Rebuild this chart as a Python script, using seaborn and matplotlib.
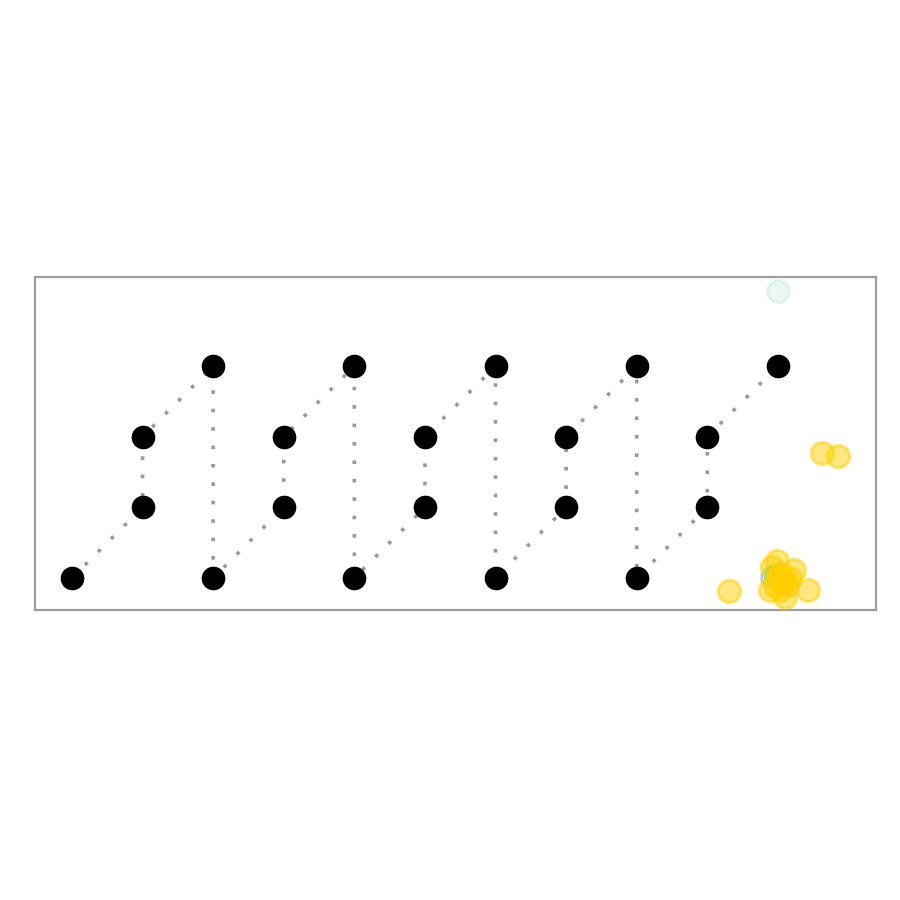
import matplotlib
matplotlib.use("Agg")
import matplotlib.pyplot as plt
import seaborn as sns
import pandas as pd

# Path of black nodes (zigzag)
path_x = [0, 1, 1, 2, 2, 3, 3, 4, 4, 5, 5, 6, 6, 7, 7, 8, 8, 9, 9, 10]
path_y = [0, 1, 2, 3, 0, 1, 2, 3, 0, 1, 2, 3, 0, 1, 2, 3, 0, 1, 2, 3]

# Yellow scatter points
yellow_x = [9.31, 9.99, 10.23, 10.42, 9.89, 10.10, 10.07, 9.92, 10.00, 10.13, 9.96, 10.17, 10.03, 10.05, 10.09, 10.62, 10.85]
yellow_y = [-0.18, 0.245, 0.11, -0.17, -0.17, -0.27, -0.03, 0.16, 0.00, -0.10, -0.11, 0.00, -0.17, 0.05, -0.06, 1.77, 1.73]

# Teal scatter points
teal_x = [9.97, 9.92]
teal_y = [0.04, 0.02]
teal_faint_x = [10.0]
teal_faint_y = [4.06]

sns.set_theme(style="white")
fig = plt.figure(figsize=(9, 9), dpi=100)
ax = fig.add_axes([35 / 900, 290 / 900, 841 / 900, 333 / 900])

path_df = pd.DataFrame({"x": path_x, "y": path_y})
sns.lineplot(data=path_df, x="x", y="y", sort=False, estimator=None, ax=ax,
             color="#999999", linewidth=2.6, linestyle=(0, (1, 4.1)), zorder=1)
sns.scatterplot(data=path_df, x="x", y="y", ax=ax, color="black", s=290,
                linewidth=0, zorder=2)

sns.scatterplot(x=teal_faint_x, y=teal_faint_y, ax=ax, color="#3cb896", alpha=0.1,
                s=260, edgecolor="#3cb896", linewidth=2.2, zorder=3)
sns.scatterplot(x=teal_x, y=teal_y, ax=ax, color="#1a9e8a", alpha=0.25,
                s=260, edgecolor="#1a9e8a", linewidth=2.2, zorder=3)
sns.scatterplot(x=yellow_x, y=yellow_y, ax=ax, color="#ffd000", alpha=0.5,
                s=260, edgecolor="#ffd000", linewidth=2.2, zorder=4)

ax.set_xlim(-0.524, 11.39)
ax.set_ylim(-0.453, 4.26)
ax.set_xticks([])
ax.set_yticks([])
ax.set_xlabel("")
ax.set_ylabel("")
for sp in ax.spines.values():
    sp.set_color("#9e9e9e")
    sp.set_linewidth(1.6)

fig.savefig("out.png", dpi=100)
